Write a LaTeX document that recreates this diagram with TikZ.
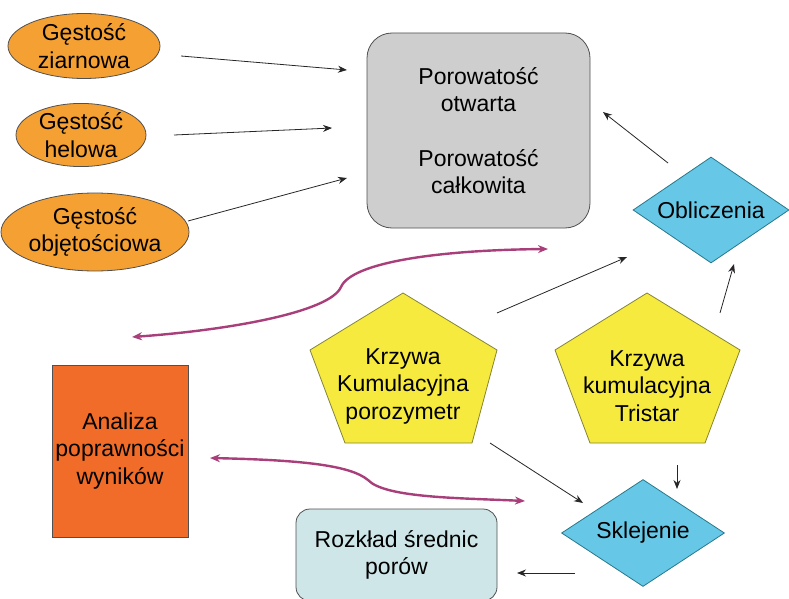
\documentclass[tikz,border=0pt]{standalone}
\usepackage{fontspec}
\setmainfont{Liberation Sans}
\usetikzlibrary{shapes.geometric,arrows.meta}
\definecolor{ellorange}{RGB}{245,160,50}
\definecolor{boxorange}{RGB}{240,108,40}
\definecolor{pentyellow}{RGB}{246,234,62}
\definecolor{diamblue}{RGB}{102,200,230}
\definecolor{diamedge}{RGB}{40,120,140}
\definecolor{graybox}{RGB}{206,206,206}
\definecolor{lightteal}{RGB}{206,230,232}
\definecolor{pinkline}{RGB}{168,62,122}
\definecolor{edgegray}{RGB}{80,80,80}
\tikzset{
  txt/.style={font=\fontsize{23}{27.5}\selectfont, align=center, text=black},
  ell/.style={ellipse, draw=edgegray, fill=ellorange, line width=0.8pt, inner sep=0pt, txt},
  diam/.style={diamond, aspect=1.5, draw=diamedge, fill=diamblue, line width=0.8pt, inner sep=0pt, txt},
  arr/.style={-{Stealth[length=9pt,width=7pt]}, line width=0.8pt, draw=black!85},
  pinkarr/.style={{Stealth[length=10pt,width=8pt]}-{Stealth[length=10pt,width=8pt]}, line width=2.4pt, draw=pinkline},
  pent/.style={fill=pentyellow, draw=edgegray!70!yellow, line width=0.8pt}
}
\begin{document}
\begin{tikzpicture}[x=1pt,y=-1pt]
\useasboundingbox (0,0) rectangle (789,599);
% ellipses
\node[ell, minimum width=152pt, minimum height=65pt] (ez) at (84,46) {Gęstość\\ziarnowa};
\node[ell, minimum width=130pt, minimum height=57pt] (eh) at (81,135) {Gęstość\\helowa};
\node[ell, minimum width=159pt, minimum height=78pt] (eo) at (95,232) {Gęstość\\objętościowa};
% gray box
\node[draw=edgegray, fill=graybox, rounded corners=25pt, line width=0.8pt, minimum width=223pt, minimum height=195pt, txt] (por) at (478.5,130.5) {Porowatość\\otwarta\\[27pt]Porowatość\\całkowita};
% obliczenia
\node[diam, minimum width=156pt, minimum height=106pt] (obl) at (711,210) {Obliczenia};
% pentagons
\filldraw[pent] (403,293) -- (497,350) -- (472,443) -- (345,443) -- (310,350) -- cycle;
\node[txt] (p1) at (403,386) {Krzywa\\Kumulacyjna\\porozymetr};
\filldraw[pent] (647,293) -- (740,350) -- (705,443) -- (590,443) -- (555,350) -- cycle;
\node[txt] (p2) at (647,386) {Krzywa\\kumulacyjna\\Tristar};
% analiza
\node[draw=edgegray, fill=boxorange, line width=0.8pt, minimum width=136pt, minimum height=172pt, txt] (ana) at (120,451) {Analiza\\poprawności\\wyników};
% sklejenie
\node[diam, minimum width=163pt, minimum height=107pt] (skl) at (643,533) {Sklejenie};
% rozklad
\node[draw=edgegray, fill=lightteal, rounded corners=14pt, line width=0.8pt, minimum width=201pt, minimum height=92pt, txt] (roz) at (396.5,555) {Rozkład średnic\\porów};
% coordinates for arrows
\coordinate (a1s) at (181,56);  \coordinate (a1e) at (347,70);
\coordinate (a2s) at (174,135); \coordinate (a2e) at (332,128);
\coordinate (a3s) at (188,221); \coordinate (a3e) at (347,178);
\coordinate (a4s) at (668,163); \coordinate (a4e) at (603,112);
\coordinate (a5s) at (497,313); \coordinate (a5e) at (627,257);
\coordinate (a6s) at (720,313); \coordinate (a6e) at (734,264);
\coordinate (a7s) at (490,443); \coordinate (a7e) at (583,503);
\coordinate (a8s) at (677,465); \coordinate (a8e) at (677,489);
\coordinate (a9s) at (575,573); \coordinate (a9e) at (517,573);
\coordinate (pu1) at (548,249); \coordinate (pu2) at (132,337); \coordinate (puk) at (341,287);
\coordinate (pl1) at (210,458); \coordinate (pl2) at (525,501); \coordinate (plk) at (368,480);
\draw[arr] (a1s) -- (a1e);
\draw[arr] (a2s) -- (a2e);
\draw[arr] (a3s) -- (a3e);
\draw[arr] (a4s) -- (a4e);
\draw[arr] (a5s) -- (a5e);
\draw[arr] (a6s) -- (a6e);
\draw[arr] (a7s) -- (a7e);
\draw[arr] (a8s) -- (a8e);
\draw[arr] (a9s) -- (a9e);
% pink curves
\draw[pinkarr] (pu1) .. controls (440,250) and (352,262) .. (puk) .. controls (330,312) and (230,330) .. (pu2);
\draw[pinkarr] (pl1) .. controls (300,460) and (350,465) .. (plk) .. controls (385,498) and (460,498) .. (pl2);
\end{tikzpicture}
\end{document}
